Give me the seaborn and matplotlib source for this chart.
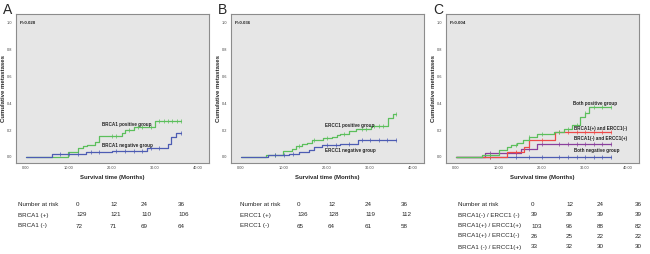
import matplotlib
matplotlib.use('Agg')
import matplotlib.pyplot as plt
import seaborn as sns
import numpy as np
import pandas as pd

# ---- data ----
# panel A
a_pos_t = [0, 9.8, 12.1, 13.2, 14.2, 16.0, 17.0, 22.2, 23.0, 25.0, 30.0, 36.0]
a_pos_y = [0, 0.04, 0.07, 0.08, 0.09, 0.11, 0.16, 0.18, 0.20, 0.22, 0.27, 0.27]
a_neg_t = [0, 6.0, 14.0, 19.9, 28.0, 32.9, 33.6, 34.8, 36.0]
a_neg_y = [0, 0.02, 0.035, 0.048, 0.065, 0.097, 0.147, 0.177, 0.177]

# panel B
b_pos_t = [0, 5.9, 9.8, 11.8, 12.9, 14.1, 15.3, 16.5, 19.0, 21.2, 22.4, 23.1, 25.1, 26.7, 30.2, 34.1, 35.3, 36.0]
b_pos_y = [0, 0.012, 0.045, 0.06, 0.08, 0.095, 0.105, 0.125, 0.14, 0.15, 0.163, 0.175, 0.195, 0.21, 0.23, 0.29, 0.32, 0.32]
b_neg_t = [0, 6.3, 11.1, 13.5, 15.7, 16.9, 18.8, 23.1, 27.1, 36.0]
b_neg_y = [0, 0.012, 0.02, 0.037, 0.055, 0.075, 0.088, 0.10, 0.127, 0.127]

# panel C
c_both_pos_t = [0, 6.0, 10.1, 11.8, 12.8, 14.2, 15.6, 16.9, 18.8, 22.7, 25.1, 27.0, 28.9, 30.0, 31.0, 36.0]
c_both_pos_y = [0, 0.012, 0.05, 0.075, 0.088, 0.105, 0.125, 0.15, 0.17, 0.19, 0.21, 0.24, 0.30, 0.33, 0.37, 0.37]
c_b1p_e1n_t = [0, 11.8, 15.7, 16.9, 23.1, 36.0]
c_b1p_e1n_y = [0, 0.035, 0.075, 0.13, 0.185, 0.185]
c_b1n_e1p_t = [0, 6.8, 15.0, 18.8, 36.0]
c_b1n_e1p_y = [0, 0.03, 0.06, 0.10, 0.10]
c_both_neg_t = [0, 36.0]
c_both_neg_y = [0, 0]

# censoring times (tick marks on the curves)
cens_a_pos = [20, 21, 24, 26, 27, 29, 31, 32, 33, 34, 35, 36]
cens_a_neg = [8, 10, 12, 15, 17, 21, 23, 25, 27, 29, 31, 36]
cens_b_pos = [8, 13.5, 17, 20, 24, 28, 29, 31, 32, 33, 36]
cens_b_neg = [8, 10, 12, 20, 22, 25, 28, 30, 32, 34, 36]
cens_c = [8, 14, 17, 20, 24, 26, 28, 30, 32, 34, 36]

p_values = ['P=0.028', 'P=0.036', 'P=0.004']
panel_letters = ['A', 'B', 'C']

risk_times = ['0', '12', '24', '36']
risk_a_rows = ['BRCA1 (+)', 'BRCA1 (-)']
risk_a_vals = [[129, 121, 110, 106], [72, 71, 69, 64]]
risk_b_rows = ['ERCC1 (+)', 'ERCC1 (-)']
risk_b_vals = [[136, 128, 119, 112], [65, 64, 61, 58]]
risk_c_rows = ['BRCA1(-) / ERCC1 (-)', 'BRCA1(+) / ERCC1(+)', 'BRCA1(+) / ERCC1(-)', 'BRCA1 (-) / ERCC1(+)']
risk_c_vals = [[39, 39, 39, 39], [103, 96, 88, 82], [26, 25, 22, 22], [33, 32, 30, 30]]

GREEN = '#5cbf5c'
BLUE = '#4d5cb3'
RED = '#ee4a48'
PURPLE = '#8a3f9c'

sns.set_style('white')
plt.rcParams['font.family'] = ['Liberation Sans', 'DejaVu Sans']

W, H = 650, 254
fig = plt.figure(figsize=(6.5, 2.54), dpi=100)


def step_y(t, ts, ys):
    i = np.searchsorted(ts, t, side='right') - 1
    return ys[max(i, 0)]


def curve(ax, ts, ys, color, cens):
    df = pd.DataFrame({'t': ts, 'y': ys})
    sns.lineplot(data=df, x='t', y='y', ax=ax, color=color, lw=0.9,
                 drawstyle='steps-post', estimator=None, sort=False)
    cy = [step_y(c, ts, ys) for c in cens]
    ax.plot(cens, cy, ls='none', marker='|', ms=2.2, mew=0.5, color=color)


def setup(ax, idx):
    ax.set_facecolor('#e6e6e6')
    ax.set_xlim(-2.3, 42.5)
    ax.set_ylim(-0.045, 1.067)
    ax.set_xticks([0, 10, 20, 30, 40])
    ax.set_xticklabels(['0.00', '10.00', '20.00', '30.00', '40.00'])
    ax.set_yticks([0, 0.2, 0.4, 0.6, 0.8, 1.0])
    ax.set_yticklabels(['0.0', '0.2', '0.4', '0.6', '0.8', '1.0'])
    ax.tick_params(labelsize=2.8, length=1.5, width=0.4, pad=1, colors='#444444')
    for s in ax.spines.values():
        s.set_color('#8c8c8c')
        s.set_linewidth(0.8)
    ax.set_xlabel('Survival time (Months)', fontsize=4.3, fontweight='bold', labelpad=3)
    ax.set_ylabel('Cumulative metastases', fontsize=4.3, fontweight='bold', labelpad=0.5)
    ax.text(-1.4, 1.0, p_values[idx], fontsize=3.2, fontweight='bold', va='center')


def axes_at(left_px):
    return fig.add_axes([left_px / W, (H - 163) / H, 193 / W, 149 / H])


axA = axes_at(16)
axB = axes_at(231)
axC = axes_at(446)

curve(axA, a_pos_t, a_pos_y, GREEN, cens_a_pos)
curve(axA, a_neg_t, a_neg_y, BLUE, cens_a_neg)
setup(axA, 0)
axA.text(17.6, 0.246, 'BRCA1 positive group', fontsize=3.3, fontweight='bold', va='center')
axA.text(17.6, 0.082, 'BRCA1 negative group', fontsize=3.3, fontweight='bold', va='center')

curve(axB, b_pos_t, b_pos_y, GREEN, cens_b_pos)
curve(axB, b_neg_t, b_neg_y, BLUE, cens_b_neg)
setup(axB, 1)
axB.text(19.6, 0.237, 'ERCC1 positive group', fontsize=3.3, fontweight='bold', va='center')
axB.text(19.6, 0.045, 'ERCC1 negative group', fontsize=3.3, fontweight='bold', va='center')

curve(axC, c_both_neg_t, c_both_neg_y, BLUE, cens_c)
curve(axC, c_b1n_e1p_t, c_b1n_e1p_y, PURPLE, cens_c)
curve(axC, c_b1p_e1n_t, c_b1p_e1n_y, RED, cens_c)
curve(axC, c_both_pos_t, c_both_pos_y, GREEN, cens_c)
setup(axC, 2)
axC.text(27.2, 0.40, 'Both positive group', fontsize=3.3, fontweight='bold', va='center')
axC.text(27.4, 0.21, 'BRCA1(+) and ERCC1(-)', fontsize=3.3, fontweight='bold', va='center')
axC.text(27.4, 0.137, 'BRCA1(-) and ERCC1(+)', fontsize=3.3, fontweight='bold', va='center')
axC.text(27.4, 0.045, 'Both negative group', fontsize=3.3, fontweight='bold', va='center')

# panel letters
for x_px, letter in zip([3, 218, 433], panel_letters):
    fig.text(x_px / W, 1 - 3 / H, letter, fontsize=10, va='top', ha='left')


# number-at-risk tables
def risk_table(label_x, col_x, rows, vals, row_y):
    fs = 4.5
    fig.text(label_x / W, 1 - row_y[0] / H, 'Number at risk', fontsize=fs, va='center')
    for cx, t in zip(col_x, risk_times):
        fig.text(cx / W, 1 - row_y[0] / H, t, fontsize=fs, va='center')
    for r, (name, v) in enumerate(zip(rows, vals)):
        yy = 1 - row_y[r + 1] / H
        fig.text(label_x / W, yy, name, fontsize=fs, va='center')
        for cx, n in zip(col_x, v):
            fig.text(cx / W, yy, str(n), fontsize=fs, va='center')


risk_table(18, [76, 110, 141, 178], risk_a_rows, risk_a_vals, [204, 215, 226])
risk_table(240, [297, 328, 365, 401], risk_b_rows, risk_b_vals, [204, 215, 226])
risk_table(458, [531, 566, 597, 635], risk_c_rows, risk_c_vals, [204, 215, 226, 236, 247])

fig.savefig('out.png', dpi=100)
